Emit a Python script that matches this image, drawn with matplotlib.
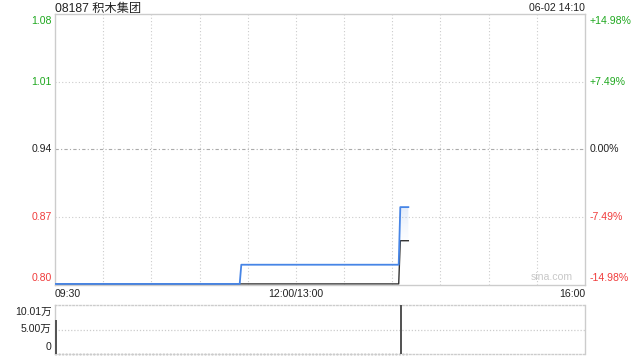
import numpy as np
import matplotlib
matplotlib.use("Agg")
import matplotlib.pyplot as plt
from matplotlib.colors import to_rgb

plt.rcParams['font.family'] = ['Liberation Sans', 'Noto Sans CJK SC', 'DejaVu Sans']

# --- data (minutes since 09:30 on the trading clock, lunch break removed) ---
title = "08187 积木集团"
stamp = "06-02 14:10"
prev_close = 0.94
price_t = [0, 115, 116, 214, 215, 220]
price_v = [0.80, 0.80, 0.82, 0.82, 0.88, 0.88]
avg_t = [0, 214, 215, 220]
avg_v = [0.80, 0.80, 0.845, 0.845]
vol_t = [0, 215]
vol_v = [69000, 100100]
price_ticks = [1.08, 1.01, 0.94, 0.87, 0.80]
pct_ticks = ["+14.98%", "+7.49%", "0.00%", "-7.49%", "-14.98%"]
vol_ticks = ["10.01万", "5.00万", "0"]
time_labels = ["09:30", "12:00/13:00", "16:00"]
total_minutes = 330

GREEN = "#1fa81f"
RED = "#f03c3c"
GRID = "#cccccc"
BLUE = "#4785e6"

fig = plt.figure(figsize=(6.4, 3.6), dpi=100)
ax = fig.add_axes([55/640, 1-284.7/360, 530/640, (284.7-14.3)/360])
axv = fig.add_axes([55/640, 1-354/360, 530/640, 49/360])

lo = prev_close * (1 - 0.1498)
hi = prev_close * (1 + 0.1498)
ax.set_xlim(0, total_minutes)
ax.set_ylim(lo, hi)

# grid
for m in range(30, total_minutes, 30):
    ax.axvline(m, color=GRID, lw=0.8, ls=(0, (1, 2)), zorder=0)
for v in price_ticks[1:-1]:
    if v == prev_close:
        ax.axhline(v, color="#aaaaaa", lw=0.8, ls=(0, (3, 2, 1, 2)), zorder=0)
    else:
        ax.axhline(v, color=GRID, lw=0.8, ls=(0, (1, 2)), zorder=0)

# gradient under price line
poly = ax.fill_between(price_t, price_v, lo, color="none", lw=0)
top = max(price_v)
ramp = np.linspace(0, 1, 100)
rgba = np.zeros((100, 1, 4))
rgba[:, 0, :3] = to_rgb(BLUE)
rgba[:, 0, 3] = np.clip((ramp - 0.45) / 0.55, 0, 1) ** 1.5 * 0.16
im = ax.imshow(rgba, extent=[0, total_minutes, lo, top], origin="lower",
               aspect="auto", zorder=1, interpolation="bilinear")
im.set_clip_path(poly.get_paths()[0], transform=ax.transData)
ax.set_xlim(0, total_minutes)
ax.set_ylim(lo, hi)

ax.plot(price_t, price_v, color=BLUE, lw=1.3, zorder=3)
ax.plot(avg_t, avg_v, color="#333333", lw=1.0, zorder=2)

for s in ax.spines.values():
    s.set_color(GRID)
    s.set_linewidth(1.0)
ax.set_xticks([])
ax.set_yticks([])

fs = 7.6
colors = [GREEN, GREEN, "#222222", RED, RED]
for i, (v, p, c) in enumerate(zip(price_ticks, pct_ticks, colors)):
    y = ax.transLimits.transform((0, v))[1]
    if i == 0:
        y, va = 1 - 2/270, "top"
    elif i == len(price_ticks) - 1:
        y, va = 2/270, "bottom"
    else:
        va = "center"
    ax.text(-0.006, y, f"{v:.2f}", transform=ax.transAxes, ha="right", va=va,
            color=c, fontsize=fs)
    ax.text(1.009, y, p, transform=ax.transAxes, ha="left", va=va,
            color=c, fontsize=fs)

ax.text(0.0, 1.02, title, transform=ax.transAxes, ha="left", va="center",
        fontsize=8.8, color="#222222")
ax.text(1.0, 1.024, stamp, transform=ax.transAxes, ha="right", va="center",
        fontsize=7.6, color="#222222")
ax.text(0.938, 0.027, "sina.com", transform=ax.transAxes, ha="center", va="center",
        fontsize=7.6, color="#c8c8c8")

# time labels
ax.text(0.0, -0.015, time_labels[0], transform=ax.transAxes, ha="left", va="top",
        fontsize=fs, color="#222222")
ax.text(150/total_minutes, -0.015, time_labels[1], transform=ax.transAxes,
        ha="center", va="top", fontsize=fs, color="#222222")
ax.text(1.0, -0.015, time_labels[2], transform=ax.transAxes, ha="right", va="top",
        fontsize=fs, color="#222222")

# volume panel
vmax = max(vol_v)
axv.set_xlim(0, total_minutes)
axv.set_ylim(0, vmax)
axv.bar(vol_t, vol_v, width=1.0, align="edge", color="#555555", zorder=3)
axv.axhline(vmax / 2, color=GRID, lw=0.9, ls=(0, (1, 1.5)), zorder=0)
axv.plot([vol_t[0], price_t[-1]], [0, 0], color="#777777", lw=1.0,
         ls=(0, (1, 1.5)), zorder=2, clip_on=False)
axv.set_xticks([])
axv.set_yticks([])
for k, s in axv.spines.items():
    s.set_color(GRID)
    s.set_linewidth(1.0)
    if k in ("top", "bottom"):
        s.set_linestyle((0, (1, 1.5)))
axv.text(-0.006, 0.857, vol_ticks[0], transform=axv.transAxes, ha="right",
         va="center", fontsize=fs, color="#222222")
axv.text(-0.006, 0.51, vol_ticks[1], transform=axv.transAxes, ha="right",
         va="center", fontsize=fs, color="#222222")
axv.text(-0.006, 0.133, vol_ticks[2], transform=axv.transAxes, ha="right",
         va="center", fontsize=fs, color="#222222")

fig.savefig("out.png", dpi=100)
